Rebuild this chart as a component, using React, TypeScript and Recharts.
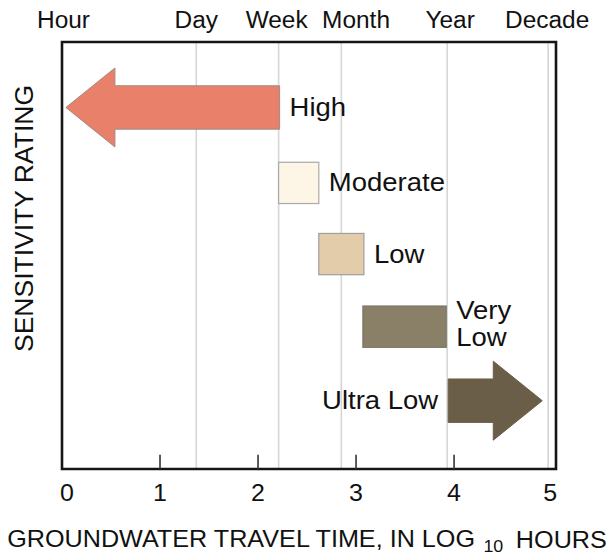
import React from 'react';
import { ComposedChart, XAxis, YAxis, ReferenceArea, ReferenceLine } from 'recharts';

// ---- data (log10 hours on x, sensitivity level on y) ----
const ratings = ['High', 'Moderate', 'Low', 'Very Low', 'Ultra Low'];
const rangeStart = [0.04, 2.21, 2.62, 3.07, 3.94];
const rangeEnd = [2.22, 2.62, 3.08, 3.92, 4.9];
const ratingLevel = [5.08, 4.02, 3.02, 2.0, 0.96];
const markKind = ['arrowLeft', 'box', 'box', 'box', 'arrowRight'];
const labelLines = [['High'], ['Moderate'], ['Low'], ['Very', 'Low'], ['Ultra Low']];

const xTicks = [0, 1, 2, 3, 4, 5];
const innerTicks = [1, 2, 3, 4];
const timeMarkLabels = ['Hour', 'Day', 'Week', 'Month', 'Year', 'Decade'];
const timeLabelValues = [0.015, 1.37, 2.19, 3.0, 3.96, 4.95];
const gridValues = [1.37, 2.21, 2.85, 3.93, 4.96];

// ---- styles ----
const X_MAX = 5.04;
const Y_MAX = 6;
const BOX_HALF = 0.29;
const HEAD_HALF = 0.555;
const BODY_HALF = 0.305;
const HEAD_LEN = 0.5;
const markFill = ['#E9806A', '#FDF6E6', '#E3CCAA', '#8A8068', '#6B5E49'];
const markStroke = ['#A08A84', '#AAAAAA', '#9E9E9E', '#7A7466', '#6B5E49'];
const FONT = "'Liberation Sans', Arial, Helvetica, sans-serif";

const STxt = ({ x, y, size, sx = 1, anchor = 'middle', children }: any) => (
  <text
    transform={`translate(${x},${y}) scale(${sx},1)`}
    x={0}
    y={0}
    textAnchor={anchor}
    dominantBaseline="central"
    fontSize={size}
    fontFamily={FONT}
    fill="#111"
  >
    {children}
  </text>
);

const makeShape = (i: number) => (props: any) => {
  const { x, y, width, height } = props;
  const cy = y + height / 2;
  const kind = markKind[i];
  let mark: any;
  const left = x;
  const right = x + width;
  if (kind === 'box') {
    mark = (
      <rect x={x} y={y} width={width} height={height} fill={markFill[i]} stroke={markStroke[i]} strokeWidth={1.2} />
    );
  } else {
    const headLen = (width * HEAD_LEN) / (rangeEnd[i] - rangeStart[i]);
    const bh = (height * BODY_HALF) / HEAD_HALF / 2;
    let pts: number[][];
    if (kind === 'arrowLeft') {
      pts = [
        [x, cy],
        [x + headLen, y],
        [x + headLen, cy - bh],
        [x + width, cy - bh],
        [x + width, cy + bh],
        [x + headLen, cy + bh],
        [x + headLen, y + height],
      ];
    } else {
      pts = [
        [x + width, cy],
        [x + width - headLen, y],
        [x + width - headLen, cy - bh],
        [x, cy - bh],
        [x, cy + bh],
        [x + width - headLen, cy + bh],
        [x + width - headLen, y + height],
      ];
    }
    mark = (
      <polygon
        points={pts.map((p) => p.join(',')).join(' ')}
        fill={markFill[i]}
        stroke={markStroke[i]}
        strokeWidth={1}
      />
    );
  }
  const lines = labelLines[i];
  const onLeft = kind === 'arrowRight';
  const lx = onLeft ? left - 10 : right + 10;
  const offs = lines.length === 1 ? [0] : [-16.5, 10.5];
  return (
    <g>
      {mark}
      {lines.map((t, k) => (
        <STxt key={k} x={lx} y={cy + offs[k]} size={25} sx={1.1} anchor={onLeft ? 'end' : 'start'}>
          {t}
        </STxt>
      ))}
    </g>
  );
};

const TopTick = (props: any) => {
  const { x, y, payload } = props;
  let idx = timeLabelValues.findIndex((v) => Math.abs(v - payload.value) < 1e-6);
  if (idx < 0) idx = props.index;
  return (
    <STxt x={x} y={y - 22} size={23.5} sx={1.04}>
      {timeMarkLabels[idx]}
    </STxt>
  );
};

const BottomTick = (props: any) => {
  const { x, y, payload } = props;
  const dx = payload.value === 0 ? 5 : payload.value === 5 ? -2 : 0;
  return (
    <STxt x={x + dx} y={y + 24} size={24.5} sx={1.02}>
      {String(payload.value)}
    </STxt>
  );
};

const XTitle = (props: any) => {
  const vb = props.viewBox || { x: 62, y: 469, width: 494, height: 87 };
  const cx = vb.x + vb.width / 2 - 2;
  const cy = vb.y + 70;
  return (
    <text
      transform={`translate(${cx},${cy}) scale(1.05,1)`}
      x={0}
      y={0}
      textAnchor="middle"
      dominantBaseline="central"
      fontSize={24}
      fontFamily={FONT}
      fill="#111"
    >
      GROUNDWATER TRAVEL TIME, IN LOG
      <tspan fontSize={17} dx={8} dy={7}>
        10
      </tspan>
      <tspan dx={12} dy={-7}>
        HOURS
      </tspan>
    </text>
  );
};

const YTitle = (props: any) => {
  const vb = props.viewBox || { x: 0, y: 42, width: 62, height: 427 };
  const cx = vb.x + 24;
  const cy = vb.y + vb.height / 2 - 37;
  return (
    <text
      transform={`translate(${cx},${cy}) rotate(-90)`}
      x={0}
      y={0}
      textAnchor="middle"
      dominantBaseline="central"
      fontSize={26.5}
      fontFamily={FONT}
      fill="#111"
    >
      SENSITIVITY RATING
    </text>
  );
};

export default function App() {
  const data = ratings.map((r, i) => ({ name: r, x: rangeStart[i], y: ratingLevel[i] }));
  return (
    <div style={{ position: 'absolute', left: 0, top: 0, width: 616, height: 556, background: '#fff' }}>
      <ComposedChart width={616} height={556} data={data} margin={{ top: 0, right: 60, bottom: 0, left: 0 }}>
        <XAxis
          xAxisId="top"
          orientation="top"
          type="number"
          dataKey="x"
          domain={[0, X_MAX]}
          allowDataOverflow
          ticks={timeLabelValues}
          interval={0}
          height={42}
          axisLine={false}
          tickLine={false}
          tickSize={0}
          tickMargin={0}
          tick={<TopTick />}
        />
        <XAxis
          type="number"
          dataKey="x"
          domain={[0, X_MAX]}
          allowDataOverflow
          ticks={xTicks}
          interval={0}
          height={87}
          axisLine={false}
          tickLine={false}
          tickSize={0}
          tickMargin={0}
          tick={<BottomTick />}
          label={<XTitle />}
        />
        <YAxis
          type="number"
          dataKey="y"
          domain={[0, Y_MAX]}
          allowDataOverflow
          width={62}
          tick={false}
          axisLine={false}
          tickLine={false}
          label={<YTitle />}
        />
        {gridValues.map((g) => (
          <ReferenceLine key={'g' + g} x={g} stroke="#D6D6D6" strokeWidth={1.6} zIndex={0} ifOverflow="extendDomain" />
        ))}
        {ratings.map((r, i) => {
          const half = markKind[i] === 'box' ? BOX_HALF : HEAD_HALF;
          return (
            <ReferenceArea
              key={r}
              x1={rangeStart[i]}
              x2={rangeEnd[i]}
              y1={ratingLevel[i] - half}
              y2={ratingLevel[i] + half}
              shape={makeShape(i)}
              ifOverflow="visible"
            />
          );
        })}
        {innerTicks.map((t) => (
          <ReferenceLine
            key={'t' + t}
            segment={[
              { x: t, y: 0 },
              { x: t, y: 0.2 },
            ]}
            stroke="#333"
            strokeWidth={1.6}
          />
        ))}
        <ReferenceArea x1={0} x2={X_MAX} y1={0} y2={Y_MAX} fill="none" stroke="#151515" strokeWidth={2.6} ifOverflow="visible" />
      </ComposedChart>
    </div>
  );
}
